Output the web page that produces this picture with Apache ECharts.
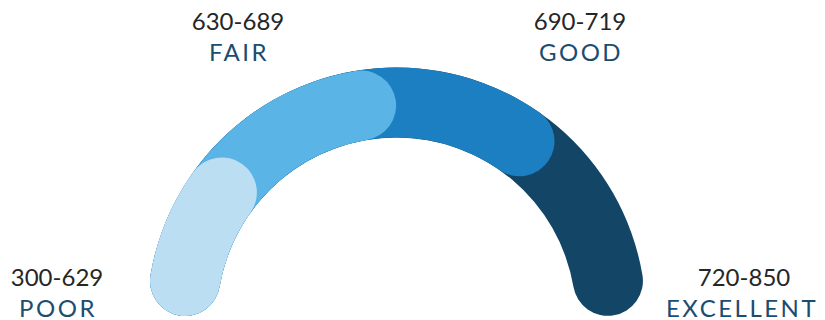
<!DOCTYPE html>
<html>
<head>
<meta charset="utf-8">
<script src="https://cdn.jsdelivr.net/npm/echarts@6/dist/echarts.min.js"></script>
<style>
  html, body { margin: 0; padding: 0; background: #fff; }
  #chart { width: 825px; height: 320px; }
  /* band names are letter-spaced in the original */
  #chart text[fill="#1b4d70"] { letter-spacing: 2.5px; }
</style>
</head>
<body>
<div id="chart"></div>
<script>
// score bands, lowest first
const bandNames = ['POOR', 'FAIR', 'GOOD', 'EXCELLENT']
const bandRanges = ['300-629', '630-689', '690-719', '720-850']
// arc covered by each band, in degrees
const bandSpans = [25.8, 45, 44.5, 45.3]
const bandColors = ['#bcdef3', '#5ab4e6', '#1c7fc1', '#124566']

// where the two text lines of each band sit
const labelPos = [[57, 276], [238, 20], [580, 20], [744, 276]]

const startAngle = 170.3
let total = 0
const bandEnds = bandSpans.map(function (s) { total += s; return total })

const chart = echarts.init(document.getElementById('chart'), null, { renderer: 'svg' })

const series = bandNames.map(function (name, i) {
  return {
    name: name,
    type: 'gauge',
    z: 10 - i,
    center: [396.5, 317],
    radius: 249.5,
    startAngle: startAngle,
    endAngle: startAngle - total,
    min: 0,
    max: total,
    silent: true,
    animation: false,
    progress: {
      show: true,
      roundCap: true,
      width: 70,
      itemStyle: { color: bandColors[i] }
    },
    axisLine: { show: false },
    splitLine: { show: false },
    axisTick: { show: false },
    axisLabel: { show: false },
    pointer: { show: false },
    anchor: { show: false },
    title: { show: false },
    detail: { show: false },
    data: [{ value: bandEnds[i], name: name }]
  }
})

const texts = []
bandNames.forEach(function (name, i) {
  texts.push({
    type: 'text',
    x: labelPos[i][0],
    y: labelPos[i][1],
    style: {
      text: bandRanges[i],
      fill: '#262626',
      font: '24px Lato',
      lineHeight: 20,
      align: 'center',
      verticalAlign: 'middle'
    }
  })
  texts.push({
    type: 'text',
    x: labelPos[i][0] + (i === 3 ? -2 : 1),
    y: labelPos[i][1] + 31,
    style: {
      text: name,
      fill: '#1b4d70',
      font: '24px Lato',
      lineHeight: 20,
      align: 'center',
      verticalAlign: 'middle'
    }
  })
})

chart.setOption({
  animation: false,
  series: series,
  graphic: { elements: texts }
})
</script>
</body>
</html>
